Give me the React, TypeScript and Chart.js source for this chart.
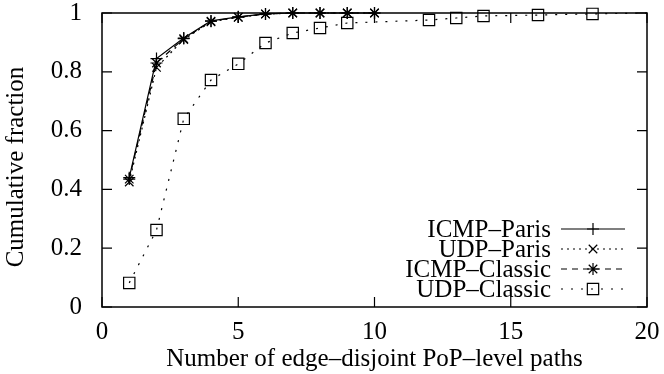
import React, { useEffect, useRef } from 'react';
import { Chart, registerables } from 'chart.js';

Chart.register(...registerables);

const parisPathCounts = [1, 2, 3, 4, 5, 6, 7, 8, 9, 10];
const icmpParis = [0.44, 0.845, 0.915, 0.973, 0.987, 0.997, 1, 1, 1, 1];
const udpParis = [0.425, 0.815, 0.91, 0.97, 0.985, 0.996, 1, 1, 1, 1];
const icmpClassic = [0.435, 0.83, 0.913, 0.972, 0.986, 0.997, 1, 1, 1, 1];
const udpClassicPathCounts = [1, 2, 3, 4, 5, 6, 7, 8, 9, 12, 13, 14, 16, 18, 20];
const udpClassic = [0.082, 0.262, 0.64, 0.772, 0.827, 0.898, 0.932, 0.949, 0.966, 0.976, 0.983, 0.99, 0.993, 0.997, 1];
const xTicks = [0, 5, 10, 15, 20];
const yTicks = [0, 0.2, 0.4, 0.6, 0.8, 1];
const seriesNames = ['ICMP–Paris', 'UDP–Paris', 'ICMP–Classic', 'UDP–Classic'];
const xTitle = 'Number of edge–disjoint PoP–level paths';
const yTitle = 'Cumulative fraction';

const FONT = "'Liberation Serif', 'DejaVu Serif', serif";
const FS = 25;

const styles = [
  { dash: [] as number[], point: 'cross', radius: 6 },
  { dash: [2, 4], point: 'crossRot', radius: 6 },
  { dash: [6, 5], point: 'star', radius: 6 },
  { dash: [2, 8], point: 'rect', radius: 8 },
];

function drawMarker(ctx: CanvasRenderingContext2D, style: string, x: number, y: number, r: number) {
  ctx.beginPath();
  if (style === 'cross' || style === 'star') {
    ctx.moveTo(x - r, y); ctx.lineTo(x + r, y);
    ctx.moveTo(x, y - r); ctx.lineTo(x, y + r);
  }
  if (style === 'crossRot' || style === 'star') {
    const d = r * Math.SQRT1_2;
    ctx.moveTo(x - d, y - d); ctx.lineTo(x + d, y + d);
    ctx.moveTo(x - d, y + d); ctx.lineTo(x + d, y - d);
  }
  if (style === 'rect') {
    const s = r * Math.SQRT1_2;
    ctx.rect(x - s, y - s, 2 * s, 2 * s);
  }
  ctx.stroke();
}

const framePlugin = {
  id: 'gnuplotFrame',
  beforeDatasetsDraw(chart: any) {
    const { ctx, chartArea: a, scales } = chart;
    ctx.save();
    ctx.strokeStyle = '#000';
    ctx.lineWidth = 1.5;
    ctx.strokeRect(a.left, a.top, a.right - a.left, a.bottom - a.top);
    ctx.lineWidth = 1.2;
    ctx.beginPath();
    xTicks.forEach((v) => {
      const px = scales.x.getPixelForValue(v);
      ctx.moveTo(px, a.bottom); ctx.lineTo(px, a.bottom - 10);
      ctx.moveTo(px, a.top); ctx.lineTo(px, a.top + 10);
    });
    yTicks.forEach((v) => {
      const py = scales.y.getPixelForValue(v);
      ctx.moveTo(a.left, py); ctx.lineTo(a.left + 10, py);
      ctx.moveTo(a.right, py); ctx.lineTo(a.right - 10, py);
    });
    ctx.stroke();
    // y-axis title
    ctx.fillStyle = '#000';
    ctx.font = `${FS}px ${FONT}`;
    ctx.textAlign = 'center';
    ctx.textBaseline = 'middle';
    ctx.translate(16, (a.top + a.bottom) / 2 + 7);
    ctx.rotate(-Math.PI / 2);
    ctx.fillText(yTitle, 0, 0);
    ctx.restore();
  },
  afterDatasetsDraw(chart: any) {
    const { ctx, chartArea: a } = chart;
    ctx.save();
    ctx.fillStyle = '#000';
    ctx.strokeStyle = '#000';
    ctx.font = `${FS}px ${FONT}`;
    ctx.textAlign = 'right';
    ctx.textBaseline = 'middle';
    seriesNames.forEach((name, i) => {
      const y = a.bottom - 78 + 20 * i;
      ctx.fillText(name, a.right - 96, y + 1);
      const st = styles[i];
      ctx.lineWidth = 1.2;
      ctx.setLineDash(st.dash);
      ctx.beginPath();
      ctx.moveTo(a.right - 86, y);
      ctx.lineTo(a.right - 22, y);
      ctx.stroke();
      ctx.setLineDash([]);
      drawMarker(ctx, st.point, a.right - 54, y, st.radius);
    });
    ctx.restore();
  },
};

export default function App() {
  const ref = useRef<HTMLCanvasElement | null>(null);
  useEffect(() => {
    document.body.style.margin = '0';
    const mk = (xs: number[], ys: number[]) => xs.map((x, i) => ({ x, y: ys[i] }));
    const seriesData = [
      mk(parisPathCounts, icmpParis),
      mk(parisPathCounts, udpParis),
      mk(parisPathCounts, icmpClassic),
      mk(udpClassicPathCounts, udpClassic),
    ];
    const datasets = seriesData.map((data, i) => ({
      label: seriesNames[i],
      data,
      borderColor: '#000',
      backgroundColor: 'rgba(0,0,0,0)',
      borderWidth: 1.2,
      borderDash: styles[i].dash,
      pointStyle: styles[i].point,
      pointRadius: (c: any) => (c.raw && c.raw.x >= 20 ? 0 : styles[i].radius),
      pointBorderWidth: 1.2,
      pointBorderColor: '#000',
      pointBackgroundColor: 'rgba(0,0,0,0)',
      tension: 0,
      fill: false,
      clip: false as any,
    }));
    const chart = new Chart(ref.current as HTMLCanvasElement, {
      type: 'line',
      data: { datasets: datasets as any },
      plugins: [framePlugin],
      options: {
        animation: false,
        responsive: false,
        layout: { padding: { top: 13, right: 17, left: 0, bottom: 0 } },
        plugins: { legend: { display: false }, tooltip: { enabled: false } },
        scales: {
          x: {
            type: 'linear',
            min: 0,
            max: 20,
            afterBuildTicks: (s: any) => { s.ticks = xTicks.map((v) => ({ value: v })); },
            afterFit: (s: any) => { s.height = 67; s.paddingLeft = 0; s.paddingRight = 0; },
            grid: { display: false },
            border: { display: false },
            ticks: { color: '#000', font: { family: FONT, size: FS }, padding: 2, maxRotation: 0 },
            title: { display: true, text: xTitle, color: '#000', font: { family: FONT, size: FS }, padding: { top: 0, bottom: 0 } },
          },
          y: {
            type: 'linear',
            min: 0,
            max: 1,
            afterBuildTicks: (s: any) => { s.ticks = yTicks.map((v) => ({ value: v })); },
            afterFit: (s: any) => { s.width = 102; s.paddingTop = 0; s.paddingBottom = 0; },
            grid: { display: false },
            border: { display: false },
            ticks: {
              color: '#000',
              font: { family: FONT, size: FS },
              padding: 12,
              callback: (v: any) => String(Number(Number(v).toFixed(1))),
            },
            title: { display: false },
          },
        },
      },
    });
    return () => chart.destroy();
  }, []);
  return (
    <div style={{ width: 664, height: 374 }}>
      <canvas ref={ref} width={664} height={374} style={{ display: 'block' }} />
    </div>
  );
}
